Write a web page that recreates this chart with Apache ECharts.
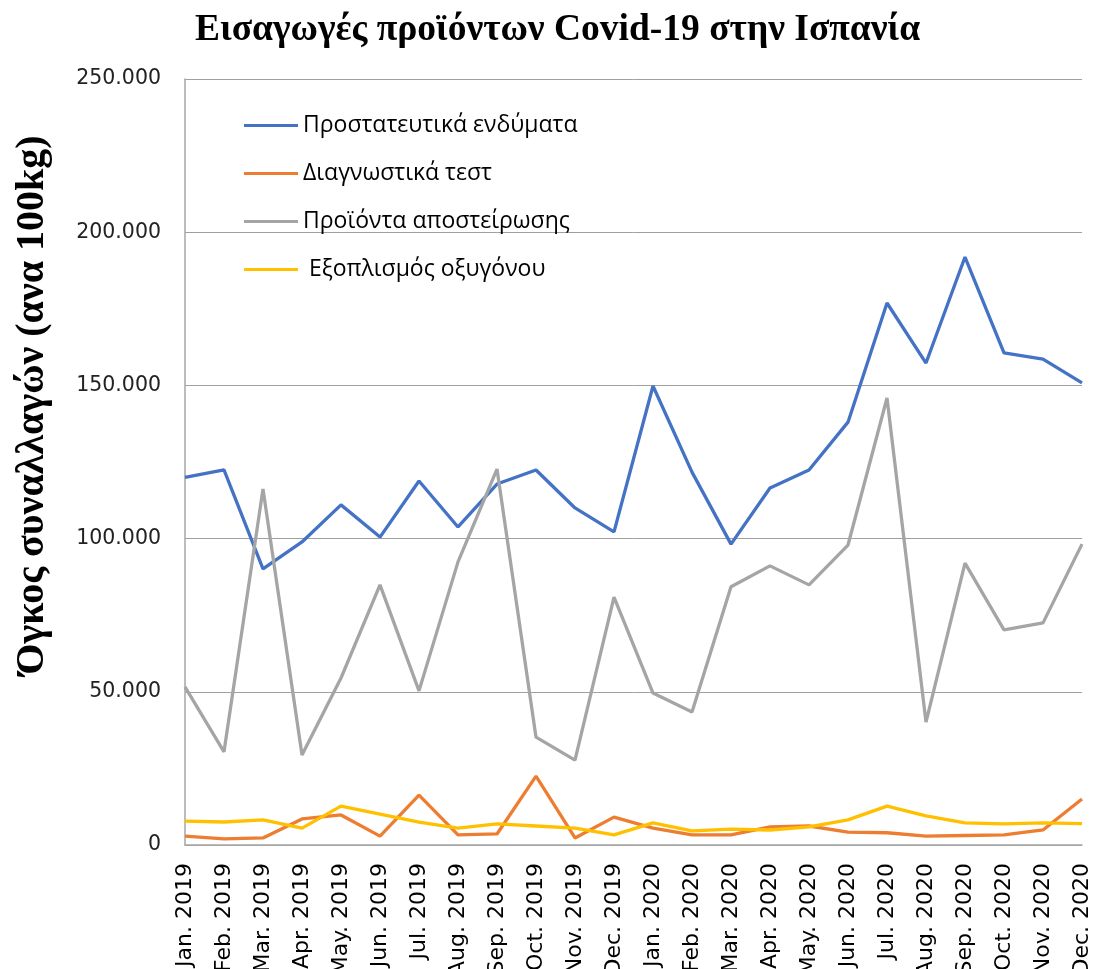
<!DOCTYPE html>
<html>
<head>
<meta charset="utf-8">
<script src="https://cdn.jsdelivr.net/npm/echarts@6/dist/echarts.min.js"></script>
<style>
html,body{margin:0;padding:0;background:#fff;}
#chart{width:1094px;height:969px;}
</style>
</head>
<body>
<div id="chart"></div>
<script>
const categories = ["Jan. 2019","Feb. 2019","Mar. 2019","Apr. 2019","May. 2019","Jun. 2019","Jul. 2019","Aug. 2019","Sep. 2019","Oct. 2019","Nov. 2019","Dec. 2019","Jan. 2020","Feb. 2020","Mar. 2020","Apr. 2020","May. 2020","Jun. 2020","Jul. 2020","Aug. 2020","Sep. 2020","Oct. 2020","Nov. 2020","Dec. 2020"];
const protective = [120000,122400,90100,98900,111000,100500,118800,103800,117800,122400,110000,102200,149800,121700,98200,116500,122400,138000,176900,157300,191900,160600,158600,150800];
const tests = [2900,2000,2300,8500,9800,2900,16300,3300,3600,22500,2300,9100,5500,3300,3300,5900,6200,4200,4000,2900,3100,3300,4900,15000];
const sterilization = [51600,30400,116200,29400,54500,84900,50300,92400,122700,35200,27700,80900,49600,43400,84300,91100,84900,97900,145900,40100,92000,70200,72500,98200];
const oxygen = [7800,7500,8200,5500,12700,10100,7500,5500,6900,6200,5500,3300,7200,4600,5200,4900,5900,8200,12700,9500,7200,6900,7200,7000];
const seriesNames = ["Προστατευτικά ενδύματα","Διαγνωστικά τεστ","Προϊόντα αποστείρωσης"," Εξοπλισμός οξυγόνου"];
const colors = ["#4472C4","#ED7D31","#A5A5A5","#FFC000"];
const titleText = "Εισαγωγές προϊόντων Covid-19 στην Ισπανία";
const yAxisTitle = "Όγκος συναλλαγών (ανα 100kg)";
const yTicks = {min:0, max:250000, interval:50000};

function fmt(v){
  return String(v).replace(/\B(?=(\d{3})+(?!\d))/g, ".");
}

const chart = echarts.init(document.getElementById('chart'), null, {renderer:'canvas'});
const dataSets = [protective, tests, sterilization, oxygen];
chart.setOption({
  animation:false,
  color: colors,
  title:{
    text:titleText,
    left:190, top:6,
    textStyle:{fontFamily:'Liberation Serif', fontWeight:'bold', fontSize:37.5, color:'#000'}
  },
  graphic:[{
    type:'text', x:33, y:405, rotation:Math.PI/2,
    style:{text:yAxisTitle, fontFamily:'Liberation Serif', fontWeight:'bold', fontSize:40,
      fill:'#000', textAlign:'center', textVerticalAlign:'middle'}
  }],
  legend:{
    orient:'vertical', left:239, top:109, itemGap:25,
    icon:'rect', itemWidth:54, itemHeight:3,
    textStyle:{fontFamily:'Open Sans', fontSize:23, color:'#000'},
    data: seriesNames
  },
  grid:{left:185, right:12, top:79, bottom:124, containLabel:false, outerBoundsMode:'none'},
  xAxis:{
    type:'category', data:categories, boundaryGap:false,
    axisLine:{show:true, lineStyle:{color:'#A6A6A6', width:1.5}},
    axisTick:{show:false},
    axisLabel:{rotate:90, interval:0, margin:18, fontFamily:'DejaVu Sans', fontSize:22, color:'#000'}
  },
  yAxis:{
    type:'value', min:yTicks.min, max:yTicks.max, interval:yTicks.interval,
    axisLine:{show:true, lineStyle:{color:'#A6A6A6', width:1.5}},
    axisTick:{show:false},
    axisLabel:{formatter:fmt, margin:24, fontFamily:'DejaVu Sans', fontSize:20.5, color:'#222'},
    splitLine:{lineStyle:{color:'#A0A0A0', width:1}}
  },
  series: seriesNames.map((n,i)=>({
    name:n, type:'line', data:dataSets[i], symbol:'none', smooth:false,
    lineStyle:{width:3.3, color:colors[i]}
  }))
});
</script>
</body>
</html>
